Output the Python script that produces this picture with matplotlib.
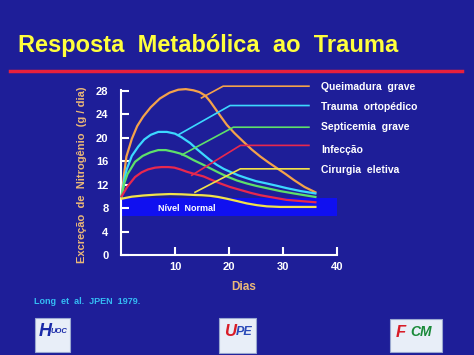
import matplotlib
matplotlib.use("Agg")
import matplotlib.pyplot as plt
from matplotlib.patches import Rectangle

plt.rcParams['font.family'] = ['Liberation Sans', 'DejaVu Sans']
plt.rcParams['font.weight'] = 'bold'

# data (dias, g/dia)
queimadura_x = [0.1, 0.6, 1.0, 2.0, 3.0, 4.1, 5.5, 7.2, 9.0, 10.6, 12.0, 13.4, 14.5, 15.6,
                16.5, 17.5, 18.5, 19.6, 21.0, 22.7, 24.2, 25.8, 27.3, 28.9, 30.5, 32.0, 34.0, 36.0]
queimadura_y = [10.0, 14.0, 16.8, 19.8, 22.0, 23.6, 25.2, 26.7, 27.7, 28.2, 28.3, 28.1, 27.8, 27.2,
                26.2, 24.9, 23.6, 22.2, 20.8, 19.3, 18.0, 16.8, 15.8, 14.8, 13.8, 12.8, 11.6, 10.7]

trauma_x = [0.1, 0.6, 1.05, 2.0, 3.2, 4.3, 5.5, 6.9, 8.5, 10.0, 11.2, 12.8, 14.0, 15.3, 16.5,
            17.7, 19.0, 20.2, 21.7, 23.3, 25.0, 27.0, 28.9, 30.7, 33.3, 36.0]
trauma_y = [10.0, 12.8, 14.6, 16.9, 18.5, 19.7, 20.5, 21.0, 21.0, 20.7, 20.1, 19.1, 18.1, 17.1, 16.2,
            15.4, 14.7, 14.2, 13.6, 13.1, 12.6, 12.2, 11.8, 11.4, 10.9, 10.5]

septicemia_x = [0.1, 0.6, 1.2, 2.6, 4.0, 5.4, 6.9, 8.3, 9.8, 11.0, 12.2, 13.4, 15.0, 16.5, 18.0,
                19.6, 21.5, 23.3, 25.0, 27.0, 29.5, 32.0, 36.0]
septicemia_y = [10.0, 12.2, 13.8, 15.9, 16.9, 17.5, 17.9, 17.9, 17.6, 17.3, 16.8, 16.2, 15.5, 14.8, 14.1,
                13.4, 12.7, 12.2, 11.8, 11.4, 10.9, 10.5, 9.9]

infeccao_x = [0.1, 1.2, 2.6, 3.8, 5.0, 6.3, 7.5, 8.8, 9.9, 11.0, 12.2, 13.7, 15.3, 16.8, 18.4,
              20.2, 22.1, 24.0, 25.8, 28.2, 30.7, 33.3, 36.0]
infeccao_y = [10.0, 11.7, 13.3, 14.1, 14.6, 14.9, 15.0, 15.0, 14.9, 14.6, 14.2, 13.8, 13.4, 12.8, 12.2,
              11.6, 11.1, 10.6, 10.2, 9.8, 9.4, 9.2, 9.0]

cirurgia_x = [0.1, 2.0, 4.1, 6.5, 9.1, 11.3, 13.4, 15.0, 16.5, 18.0, 19.6, 21.5, 23.3, 25.2, 27.0,
              29.5, 32.0, 36.0]
cirurgia_y = [9.6, 9.95, 10.15, 10.3, 10.4, 10.35, 10.25, 10.2, 10.1, 9.9, 9.6, 9.2, 8.8, 8.5, 8.3,
              8.2, 8.2, 8.2]

labels = ['Queimadura  grave', 'Trauma  ortopédico', 'Septicemia  grave', 'Infecção', 'Cirurgia  eletiva']
colors = ['#f4a24a', '#3cd8ff', '#5ee06a', '#e8284e', '#f2e24a']

# leader lines: start on curve -> bend -> end, and label height
leader_start = [(14.9, 26.8), (10.6, 20.5), (11.3, 17.1), (13.1, 13.6), (13.7, 10.7)]
leader_bend = [(18.9, 28.8), (20.2, 25.5), (20.8, 21.8), (22.1, 18.7), (22.1, 14.7)]
leader_end_x = 34.8
label_y = [28.7, 25.2, 21.9, 17.9, 14.5]

normal_low, normal_high = 6.7, 9.7
xticks = [10, 20, 30, 40]
yticks = [0, 4, 8, 12, 16, 20, 24, 28]

bg = '#1e1e98'
fig = plt.figure(figsize=(4.74, 3.55), dpi=100, facecolor=bg)

# title and red rule
fig.text(0.038, 0.873, 'Resposta  Metabólica  ao  Trauma', color='#ffff3c',
         fontsize=17, fontweight='bold', va='center', ha='left')
fig.add_artist(plt.Line2D([0.021, 0.975], [0.800, 0.800], color='#e8203c', lw=2.5,
                          transform=fig.transFigure))

ax = fig.add_axes([0.2553, 0.2817, 0.4557, 0.4656])
ax.set_facecolor('none')
ax.set_xlim(0, 40)
ax.set_ylim(0, 28.2)

# normal band
ax.add_patch(Rectangle((0.2, normal_low), 39.8, normal_high - normal_low,
                       color='#1010f0', zorder=1, lw=0))
ax.text(6.9, 7.9, 'Nível  Normal', color='white', fontsize=6.5, fontweight='bold',
        va='center', ha='left', zorder=5)

series = [(queimadura_x, queimadura_y), (trauma_x, trauma_y), (septicemia_x, septicemia_y),
          (infeccao_x, infeccao_y), (cirurgia_x, cirurgia_y)]
for (xs, ys), c in zip(series, colors):
    ax.plot(xs, ys, color=c, lw=1.6, zorder=3, clip_on=False, solid_joinstyle='round')

for i in range(5):
    sx, sy = leader_start[i]
    bx, by = leader_bend[i]
    ax.plot([sx, bx, leader_end_x], [sy, by, by], color=colors[i], lw=1.2, zorder=4,
            clip_on=False)
    ax.text(37.1, label_y[i], labels[i], color='white', fontsize=7.5, fontweight='bold',
            va='center', ha='left', clip_on=False)

for s in ['top', 'right']:
    ax.spines[s].set_visible(False)
for s in ['left', 'bottom']:
    ax.spines[s].set_color('white')
    ax.spines[s].set_linewidth(1.5)

ax.set_xticks(xticks)
ax.set_yticks(yticks)
ax.tick_params(axis='both', direction='in', colors='white', length=6, width=1.5,
               labelsize=8)
ax.tick_params(axis='y', pad=9)
ax.tick_params(axis='x', pad=5)
for t in ax.get_xticklabels() + ax.get_yticklabels():
    t.set_fontweight('bold')

fig.text(0.173, 0.507, 'Excreção  de  Nitrogênio  (g / dia)', color='#eab878',
         fontsize=8, fontweight='bold', rotation=90, va='center', ha='center')
fig.text(0.515, 0.192, 'Dias', color='#eab878', fontsize=8.5, fontweight='bold',
         va='center', ha='center')
fig.text(0.072, 0.152, 'Long  et  al.  JPEN  1979.', color='#34bcf4', fontsize=6.5,
         fontweight='bold', va='center', ha='left')

# simplified logos at the bottom
def logo(x0, y0, w, h, parts):
    fig.add_artist(Rectangle((x0, y0), w, h, transform=fig.transFigure,
                             facecolor='#e8eef8', edgecolor='#9aa8d0', lw=0.8))
    for txt, dx, col, size in parts:
        fig.text(x0 + dx * w, y0 + 0.6 * h, txt, color=col, fontsize=size,
                 fontweight='bold', style='italic', va='center', ha='center')

logo(35 / 474, 1 - 352 / 355, 35 / 474, 34 / 355, [('H', 0.28, '#1a2aa8', 13), ('UOC', 0.68, '#1a2aa8', 5.5)])
logo(219 / 474, 1 - 353 / 355, 37 / 474, 35 / 355, [('U', 0.3, '#d81c28', 12), ('PE', 0.68, '#2a4ab8', 9)])
logo(390 / 474, 1 - 352 / 355, 52 / 474, 33 / 355, [('F', 0.2, '#d81c28', 12), ('CM', 0.6, '#1a8a3a', 10)])

fig.savefig('out.png', dpi=100, facecolor=bg)
